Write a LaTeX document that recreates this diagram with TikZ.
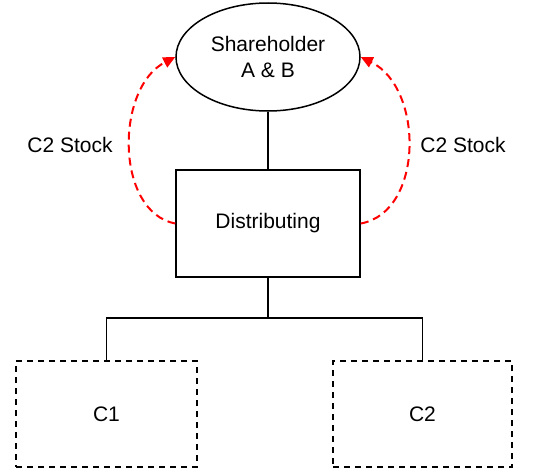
\documentclass[tikz,border=0pt]{standalone}
\usepackage{fontspec}
\setmainfont{Liberation Sans}
\usetikzlibrary{shapes.geometric,arrows.meta}
\begin{document}
\begin{tikzpicture}[x=1pt,y=-1pt,
  every node/.style={font=\fontsize{21}{25.5}\selectfont},
  solidbox/.style={draw,line width=1.5pt,minimum width=184pt,minimum height=107pt,inner sep=0pt},
  dashbox/.style={draw,line width=1.5pt,dash pattern=on 6pt off 5pt,minimum height=106pt,inner sep=0pt},
  oval/.style={draw,ellipse,line width=1.5pt,minimum width=184pt,minimum height=108pt,inner sep=0pt,align=center},
  tree/.style={line width=1.5pt},
  flow/.style={red,line width=2pt,dash pattern=on 8pt off 5pt,-{Triangle[length=12pt,width=11pt]}},
  lbl/.style={inner sep=0pt}]
\useasboundingbox (0,0) rectangle (535,471);
\node[oval] (sh) at (268,57) {Shareholder\\A \& B};
\node[solidbox] (dist) at (268,223.5) {Distributing};
\node[dashbox,minimum width=181pt] (c1) at (106.5,414) {C1};
\node[dashbox,minimum width=179pt] (c2) at (422.5,414) {C2};
\coordinate (j) at (268,318);
\draw[tree] (sh.south) -- (dist.north);
\draw[tree] (dist.south) -- (j);
\draw[tree] (j) -| (c1.north);
\draw[tree] (j) -| (c2.north);
\draw[flow] (dist.west) .. controls (115,212) and (115,88) .. (sh.west);
\draw[flow] (dist.east) .. controls (424,212) and (424,88) .. (sh.east);
\node[lbl] (l1) at (70,145) {C2 Stock};
\node[lbl] (l2) at (463,145) {C2 Stock};
\end{tikzpicture}
\end{document}
